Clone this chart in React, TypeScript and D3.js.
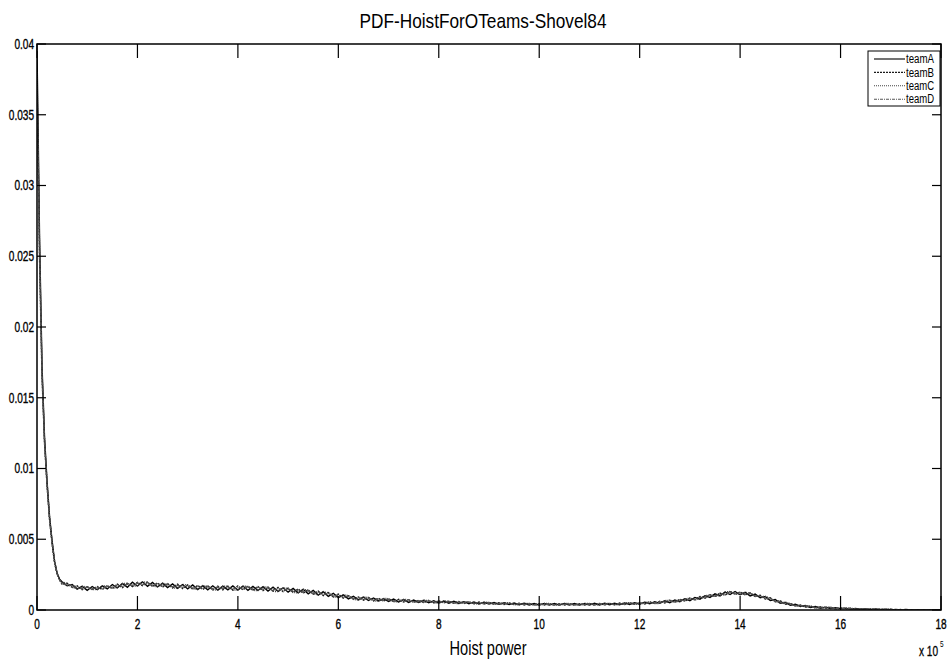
import React from "react";
import * as d3 from "d3";

// Hoist power (x 10^5): dense early samples, then a 0.1 grid from 0.5 to 18.0
const hoistEarly = [0, 0.02, 0.05, 0.1, 0.15, 0.2, 0.25, 0.3, 0.35, 0.4, 0.45];
const hoistGrid = d3.range(5, 181).map((i) => i / 10);
const hoistPower = [...hoistEarly, ...hoistGrid];

// PDF values in units of 1e-5
const teamA = [
  3950, 3450, 2650, 1720, 1220, 910, 660, 490, 345, 262, 218,
  198, 171, 180, 148, 167, 139, 166, 143, 170, 149,
  180, 156, 188, 161, 196, 170, 199, 168, 195, 163,
  190, 158, 184, 153, 180, 149, 177, 145, 172, 143,
  171, 141, 169, 142, 170, 141, 169, 139, 167, 138,
  165, 134, 161, 131, 157, 126, 152, 121, 146, 114,
  139, 106, 129, 97, 118, 88, 107, 79, 97, 72,
  91, 67, 85, 64, 80, 61, 77, 57, 74, 54,
  70, 53, 68, 51, 66, 49, 63, 48, 61, 46,
  59, 45, 57, 43, 55, 42, 53, 40, 51, 38,
  49, 37, 47, 36, 46, 35, 46, 35, 46, 35,
  46, 35, 46, 35, 46, 35, 47, 36, 47, 37,
  48, 37, 50, 39, 52, 41, 55, 44, 59, 47,
  65, 52, 71, 59, 80, 66, 89, 77, 101, 89,
  114, 100, 126, 109, 131, 108, 125, 100, 112, 86,
  95, 67, 74, 48, 54, 33, 41, 25, 31, 18,
  25, 13, 20, 10, 17, 8, 13, 6, 11, 4,
  8, 3, 7, 2, 5, 1, 4, 1, 3, 0,
  1, 0, 1, 0, 0, 0,
];
const teamB = [
  3700, 3300, 2500, 1650, 1180, 880, 640, 470, 335, 255, 212,
  182, 189, 161, 171, 144, 164, 146, 166, 145, 170,
  152, 183, 158, 189, 166, 195, 172, 197, 167, 192,
  162, 186, 157, 183, 152, 177, 148, 174, 145, 171,
  143, 168, 142, 168, 141, 170, 142, 168, 140, 166,
  137, 162, 134, 159, 130, 154, 125, 149, 119, 142,
  112, 134, 102, 123, 93, 112, 84, 101, 76, 92,
  70, 88, 66, 83, 63, 79, 60, 75, 57, 72,
  55, 69, 53, 67, 51, 65, 50, 62, 48, 60,
  46, 58, 44, 56, 42, 54, 41, 52, 39, 50,
  38, 48, 36, 46, 36, 45, 35, 45, 35, 45,
  35, 45, 35, 45, 35, 45, 36, 46, 36, 47,
  37, 49, 38, 51, 40, 53, 42, 57, 45, 61,
  50, 68, 55, 75, 63, 84, 72, 96, 83, 108,
  95, 120, 104, 131, 111, 128, 106, 121, 95, 104,
  77, 86, 58, 65, 40, 47, 29, 35, 21, 28,
  15, 23, 12, 19, 9, 16, 7, 13, 5, 10,
  4, 7, 3, 6, 1, 5, 0, 4, 0, 2,
  0, 1, 0, 1, 0, 0,
];
const teamC = [
  3800, 3350, 2580, 1690, 1200, 895, 650, 480, 340, 258, 214,
  200, 186, 160, 150, 168, 162, 144, 146, 169, 171,
  153, 158, 186, 189, 168, 170, 198, 196, 168, 165,
  188, 184, 156, 154, 180, 176, 148, 146, 172, 168,
  143, 141, 168, 168, 140, 142, 169, 167, 139, 137,
  164, 161, 132, 130, 157, 153, 124, 121, 146, 141,
  114, 108, 128, 122, 93, 88, 108, 102, 75, 71,
  92, 88, 64, 62, 82, 80, 59, 57, 75, 73,
  55, 54, 69, 67, 50, 49, 64, 62, 47, 46,
  59, 57, 44, 43, 55, 54, 40, 40, 52, 50,
  37, 37, 47, 46, 35, 35, 46, 46, 35, 35,
  46, 46, 35, 35, 46, 46, 36, 36, 47, 47,
  37, 38, 51, 51, 41, 42, 55, 57, 45, 47,
  66, 70, 57, 60, 79, 83, 72, 78, 101, 106,
  98, 102, 127, 131, 112, 110, 124, 119, 99, 94,
  96, 84, 60, 50, 56, 44, 30, 27, 32, 27,
  14, 13, 21, 19, 8, 8, 14, 12, 5, 5,
  8, 7, 2, 2, 6, 5, 1, 1, 3, 2,
  0, 0, 1, 1, 0, 0,
];
const teamD = [
  3600, 3250, 2550, 1680, 1190, 890, 645, 478, 338, 256, 213,
  186, 175, 176, 158, 150, 163, 149, 160, 152, 166,
  161, 178, 166, 183, 174, 190, 180, 187, 176, 185,
  170, 179, 164, 175, 160, 170, 157, 166, 153, 164,
  151, 162, 150, 163, 149, 164, 150, 161, 148, 160,
  146, 155, 142, 152, 138, 147, 133, 141, 127, 136,
  120, 128, 110, 116, 100, 106, 90, 96, 81, 87,
  76, 82, 71, 78, 67, 74, 64, 70, 61, 67,
  58, 65, 56, 63, 54, 61, 52, 59, 51, 57,
  49, 55, 47, 53, 45, 51, 44, 49, 42, 48,
  40, 46, 38, 44, 37, 43, 37, 43, 37, 43,
  37, 43, 37, 43, 37, 43, 38, 44, 38, 45,
  39, 46, 40, 48, 42, 50, 44, 54, 47, 58,
  53, 63, 58, 71, 65, 80, 75, 91, 86, 103,
  98, 115, 108, 126, 114, 124, 109, 117, 98, 100,
  80, 82, 62, 60, 43, 44, 31, 32, 23, 25,
  17, 21, 14, 16, 11, 14, 8, 11, 6, 8,
  5, 6, 4, 5, 2, 4, 1, 3, 1, 1,
  0, 1, 0, 0, 0, 0,
];

const seriesNames = ["teamA", "teamB", "teamC", "teamD"];
const seriesValues = [teamA, teamB, teamC, teamD];
const seriesColors = ["#000000", "#1a1a1a", "#444444", "#555555"];
const seriesDash = ["", "2,1", "1,1", "3,1,1,1"];

const xTicks = [0, 2, 4, 6, 8, 10, 12, 14, 16, 18];
const yTicks = [0, 0.005, 0.01, 0.015, 0.02, 0.025, 0.03, 0.035, 0.04];
const yTickLabels = ["0", "0.005", "0.01", "0.015", "0.02", "0.025", "0.03", "0.035", "0.04"];

const titleText = "PDF-HoistForOTeams-Shovel84";
const xLabel = "Hoist power";

const W = 951;
const H = 665;
const L = 37, R = 941, T = 44, B = 610;
const FONT = "'Liberation Sans Narrow', 'Liberation Sans', Arial, sans-serif";
const CONDENSE = 0.72;

export default function App() {
  const x = d3.scaleLinear().domain([0, 18]).range([L, R]);
  const y = d3.scaleLinear().domain([0, 0.04]).range([B, T]);
  const line = d3
    .line<number>()
    .x((_, i) => x(hoistPower[i]))
    .y((d) => y(d * 1e-5));

  const legX = 868, legY = 51, legW = 72, legH = 55;

  return (
    <svg
      width={W}
      height={H}
      style={{ position: "absolute", left: 0, top: 0, background: "#fff" }}
      fontFamily={FONT}
    >
      <defs>
        <clipPath id="plotclip">
          <rect x={L} y={T} width={R - L} height={B - T} />
        </clipPath>
      </defs>
      <rect x={0} y={0} width={W} height={H} fill="#fff" />

      {/* data */}
      <g clipPath="url(#plotclip)">
        {seriesValues.map((vals, k) => (
          <path
            key={seriesNames[k]}
            d={line(vals) || ""}
            fill="none"
            stroke={seriesColors[k]}
            strokeWidth={1.4}
            strokeDasharray={seriesDash[k] || undefined}
          />
        ))}
      </g>

      {/* axes box */}
      <rect x={L} y={T} width={R - L} height={B - T} fill="none" stroke="#000" strokeWidth={1.5} />

      {/* x ticks */}
      {xTicks.map((t) => (
        <g key={"x" + t}>
          <line x1={x(t)} x2={x(t)} y1={B} y2={B - 14} stroke="#000" strokeWidth={1.2} />
          <line x1={x(t)} x2={x(t)} y1={T} y2={T + 14} stroke="#000" strokeWidth={1.2} />
          <text
            transform={`translate(${x(t)},${B + 18.5}) scale(${CONDENSE},1)`}
            textAnchor="middle"
            fontSize={14}
            stroke="#000"
            strokeWidth={0.35}
          >
            {t}
          </text>
        </g>
      ))}

      {/* y ticks */}
      {yTicks.map((t, i) => (
        <g key={"y" + t}>
          <line x1={L} x2={L + 9} y1={y(t)} y2={y(t)} stroke="#000" strokeWidth={1.2} />
          <line x1={R} x2={R - 9} y1={y(t)} y2={y(t)} stroke="#000" strokeWidth={1.2} />
          <text
            transform={`translate(${L - 3},${y(t)}) scale(${CONDENSE},1)`}
            dy="0.35em"
            textAnchor="end"
            fontSize={14}
            stroke="#000"
            strokeWidth={0.35}
          >
            {yTickLabels[i]}
          </text>
        </g>
      ))}

      {/* exponent */}
      <text transform={`translate(919,656) scale(${CONDENSE},1)`} fontSize={14} stroke="#000" strokeWidth={0.3}>
        x 10
      </text>
      <text transform={`translate(940,647) scale(${CONDENSE},1)`} fontSize={9}>
        5
      </text>

      {/* title */}
      <text x={483} y={28} textAnchor="middle" fontSize={21} textLength={247} lengthAdjust="spacingAndGlyphs">
        {titleText}
      </text>

      {/* x label */}
      <text x={488} y={655} textAnchor="middle" fontSize={20} textLength={77} lengthAdjust="spacingAndGlyphs">
        {xLabel}
      </text>

      {/* legend */}
      <rect x={legX} y={legY} width={legW} height={legH} fill="#fff" stroke="#000" strokeWidth={1} />
      {seriesNames.map((n, k) => {
        const yy = legY + 8 + k * 13.4;
        return (
          <g key={"leg" + n}>
            <line
              x1={legX + 6}
              x2={legX + 37}
              y1={yy}
              y2={yy}
              stroke={seriesColors[k]}
              strokeWidth={1.1}
              strokeDasharray={seriesDash[k] || undefined}
            />
            <text
              x={legX + 38}
              y={yy}
              dy="0.35em"
              fontSize={12}
              textLength={28}
              lengthAdjust="spacingAndGlyphs"
            >
              {n}
            </text>
          </g>
        );
      })}
    </svg>
  );
}
